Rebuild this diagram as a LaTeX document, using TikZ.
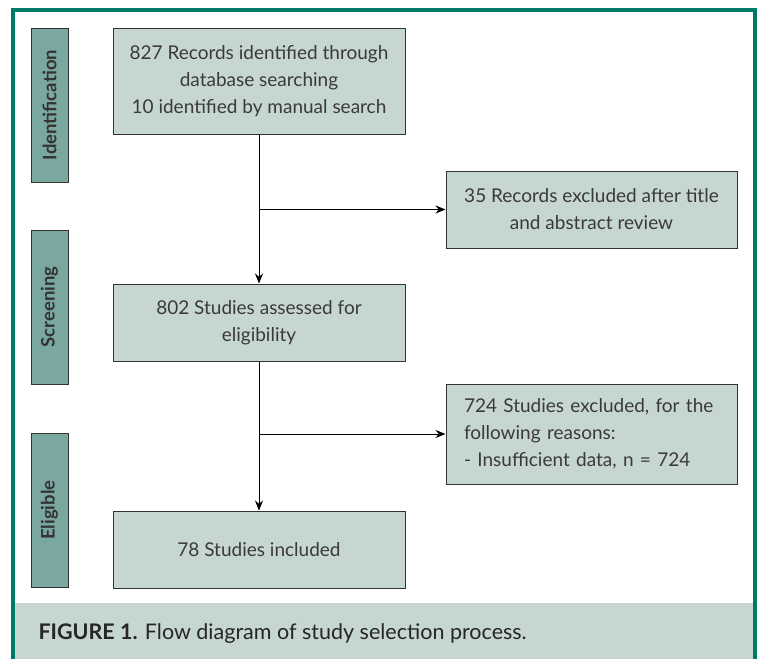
\documentclass[tikz,border=0pt]{standalone}
\usepackage{fontspec}
\setmainfont{Lato}
\usepackage{xcolor}
\usetikzlibrary{positioning}
\usetikzlibrary{arrows.meta}

\definecolor{frameteal}{RGB}{0,122,104}
\definecolor{boxfill}{RGB}{198,214,209}
\definecolor{tagfill}{RGB}{122,168,160}
\definecolor{textgray}{RGB}{58,58,58}

\begin{document}
\begin{tikzpicture}[x=1pt, y=1pt,
  flowbox/.style={draw=black!80, line width=1pt, fill=boxfill, text=textgray,
    align=center, font=\fontsize{19}{27}\selectfont, inner sep=0pt},
  tagbox/.style={draw=black!80, line width=1pt, fill=tagfill, rotate=90,
    minimum width=154, minimum height=37, inner sep=0pt,
    font=\fontsize{18.5}{20}\selectfont\bfseries, text=black!80},
  link/.style={line width=0.9pt, -{Stealth[length=10pt, width=8pt]}}]
\useasboundingbox (0,0) rectangle (761,-659);

% frame and caption band
\fill [boxfill] (15,-603) rectangle (753,-659);
\draw [frameteal, line width=4pt] (13,-670) -- (13,-10) -- (755,-10) -- (755,-670);
\node [anchor=base west, font=\fontsize{21.5}{24}\selectfont, text=black!85] (caption) at (35,-639)
  {\textbf{FIGURE 1.} Flow diagram of study selection process.};

% phase tags
\node [tagbox] (ident) at (49.5,-105) {Identification};
\node [tagbox] (screen) at (49.5,-307) {Screening};
\node [tagbox] (elig) at (49.5,-510) {Eligible};

% main boxes
\node [flowbox, minimum width=292, minimum height=106] (records) at (259,-81)
  {827 Records identified through\\ database searching\\ 10 identified by manual search};
\node [flowbox, minimum width=292, minimum height=77, node distance=149, below=of records] (assessed)
  {802 Studies assessed for\\ eligibility};
\node [flowbox, minimum width=292, minimum height=77, node distance=149, below=of assessed] (included)
  {78 Studies included};
\node [flowbox, minimum width=291, minimum height=77] (excl1) at (591.5,-209.5)
  {35 Records excluded after title\\ and abstract review};
\node [flowbox, minimum width=291, minimum height=100, align=left, text width=255] (excl2) at (591.5,-434)
  {724 Studies excluded, for the\\ following reasons:\\ - Insufficient data, n = 724};

% arrows
\draw [link] (records) -- (assessed);
\draw [link] (assessed) -- (included);
\draw [link] (records.south |- excl1.west) -- (excl1.west);
\draw [link] (assessed.south |- excl2.west) -- (excl2.west);
\end{tikzpicture}
\end{document}
